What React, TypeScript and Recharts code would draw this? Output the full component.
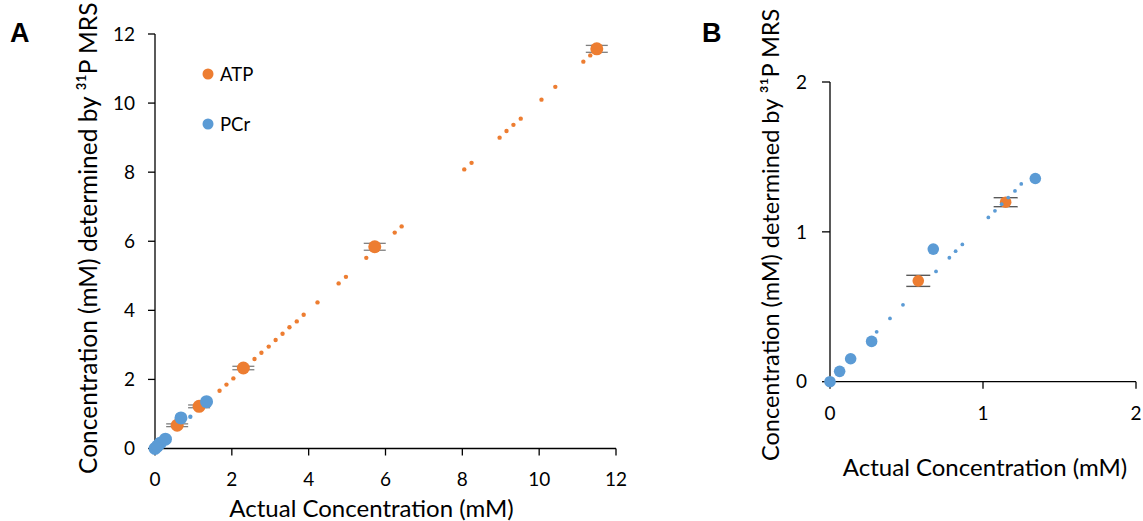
import React from 'react';
import { ScatterChart, Scatter, XAxis, YAxis, ErrorBar, Legend } from 'recharts';

const ORANGE = '#ED7D31';
const BLUE = '#5B9BD5';
const FONT = 'Lato, "Open Sans", sans-serif';

// Panel A
const ticksA = [0, 2, 4, 6, 8, 10, 12];
const atpActual = [0.577, 1.148, 2.3, 5.72, 11.5];
const atpMeasured = [0.673, 1.22, 2.33, 5.84, 11.57];
const atpError = [0.04, 0.04, 0.05, 0.1, 0.1];

const pcrActual = [0, 0.063, 0.135, 0.272, 0.675, 1.342];
const pcrMeasured = [0, 0.069, 0.153, 0.269, 0.885, 1.356];

const atpFitX = [1.68, 1.86, 2.04, 2.59, 2.77, 2.96, 3.14, 3.32, 3.5, 3.69, 3.87, 4.23, 4.78, 4.97, 5.5, 6.24, 6.42, 8.05, 8.24, 8.97, 9.15, 9.33, 9.52, 10.06, 10.42, 11.15, 11.33];
const atpFitY = [1.67, 1.85, 2.03, 2.59, 2.77, 2.95, 3.14, 3.32, 3.51, 3.68, 3.87, 4.23, 4.78, 4.97, 5.52, 6.25, 6.43, 8.08, 8.27, 9.0, 9.19, 9.37, 9.55, 10.1, 10.47, 11.2, 11.38];

const pcrFitXA = [0.92];
const pcrFitYA = [0.92];

// Panel B
const ticksB = [0, 1, 2];
const pcrFitXB = [0.305, 0.392, 0.477, 0.693, 0.78, 0.821, 0.865, 1.035, 1.078, 1.122, 1.165, 1.209, 1.25];
const pcrFitYB = [0.333, 0.422, 0.513, 0.736, 0.827, 0.871, 0.916, 1.096, 1.14, 1.185, 1.229, 1.273, 1.32];
const atpActualB = [0.577, 1.148];
const atpMeasuredB = [0.673, 1.198];
const atpErrorB = [0.037, 0.03];

const legendItems = [
  { name: 'ATP', color: ORANGE },
  { name: 'PCr', color: BLUE },
];

const Y_TITLE = 'Concentration (mM) determined by ³¹P MRS';
const X_TITLE = 'Actual Concentration (mM)';

const zip = (xs: number[], ys: number[], es?: number[]) =>
  xs.map((x, i) => ({ x, y: ys[i], err: es ? es[i] : 0 }));

const dot = (r: number, color: string) => (p: any) =>
  <circle cx={p.cx} cy={p.cy} r={r} fill={color} />;

const noShape = () => <g />;

const tickStyle = { fontSize: 19, fill: '#000', fontFamily: FONT };

const renderLegend = () => (
  <div style={{ fontFamily: FONT, fontSize: 18.5, color: '#000' }}>
    {legendItems.map((it, i) => (
      <div key={it.name} style={{ display: 'flex', alignItems: 'center', height: 24, marginBottom: i === 0 ? 26 : 0 }}>
        <svg width={12} height={12} style={{ marginRight: 6 }}>
          <circle cx={6} cy={6} r={5.5} fill={it.color} />
        </svg>
        <span>{it.name}</span>
      </div>
    ))}
  </div>
);

const yTitle = (dx: number, dy: number, fs: number) => (p: any) => {
  const vb = p.viewBox;
  const cx = vb.x + dx;
  const cy = vb.y + vb.height / 2 + dy;
  return (
    <text x={cx} y={cy} transform={`rotate(-90, ${cx}, ${cy})`} textAnchor="middle" dominantBaseline="central"
      style={{ fontSize: fs, fontFamily: FONT, fill: '#000' }}>{Y_TITLE}</text>
  );
};

const xTitle = (dx: number, dy: number) => (p: any) => {
  const vb = p.viewBox;
  const cx = vb.x + vb.width / 2 + dx;
  const cy = vb.y + dy;
  return (
    <text x={cx} y={cy} textAnchor="middle" dominantBaseline="central"
      style={{ fontSize: 24, fontFamily: FONT, fill: '#000' }}>{X_TITLE}</text>
  );
};

const axisProps = {
  axisLine: { stroke: '#000', strokeWidth: 1.3 },
  tickLine: { stroke: '#000', strokeWidth: 1.3 },
  tick: tickStyle,
  interval: 0 as const,
};

export default function App() {
  const atpA = zip(atpActual, atpMeasured, atpError);
  const pcrA = zip(pcrActual, pcrMeasured);
  const atpFitA = zip(atpFitX, atpFitY);
  const pcrFitA = zip(pcrFitXA, pcrFitYA);

  const atpB = zip(atpActualB, atpMeasuredB, atpErrorB);
  const pcrB = zip(pcrActual, pcrMeasured);
  const pcrFitB = zip(pcrFitXB, pcrFitYB);

  return (
    <div style={{ position: 'absolute', left: 0, top: 0, width: 1143, height: 521, background: '#fff' }}>
      <div style={{ position: 'absolute', left: 10, top: 18, fontFamily: '"Liberation Sans", Arial, sans-serif', fontWeight: 'bold', fontSize: 27 }}>A</div>
      <div style={{ position: 'absolute', left: 702, top: 18, fontFamily: '"Liberation Sans", Arial, sans-serif', fontWeight: 'bold', fontSize: 27 }}>B</div>

      <div style={{ position: 'absolute', left: 0, top: 0 }}>
        <ScatterChart width={650} height={521} margin={{ top: 34, right: 34, bottom: 42.5, left: 95 }}>
          <XAxis type="number" dataKey="x" domain={[0, 12]} ticks={ticksA} {...axisProps}
            tickSize={7} tickMargin={17} height={30}
            label={{ content: xTitle(-14, 59) } as any} />
          <YAxis type="number" dataKey="y" domain={[0, 12]} ticks={ticksA} {...axisProps}
            tickSize={7} tickMargin={13} width={60}
            label={{ content: yTitle(-8, -3, 24.5) } as any} />
          <Legend content={renderLegend} layout="vertical" verticalAlign="middle" align="center"
            wrapperStyle={{ position: 'absolute', left: 202, top: 62, width: 80 }} />
          <Scatter name="ATP error" legendType="none" data={atpA} shape={noShape} isAnimationActive={false}>
            <ErrorBar dataKey="err" direction="y" width={11} stroke="#7f7f7f" strokeWidth={1.3} />
          </Scatter>
          <Scatter name="ATP" data={atpA} fill={ORANGE} shape={dot(6.5, ORANGE)} isAnimationActive={false} />
          <Scatter name="PCr" data={pcrA} fill={BLUE} shape={dot(6.5, BLUE)} isAnimationActive={false} />
          <Scatter name="ATP fit" legendType="none" data={atpFitA} fill={ORANGE} shape={dot(2.2, ORANGE)} isAnimationActive={false} />
          <Scatter name="PCr fit" legendType="none" data={pcrFitA} fill={BLUE} shape={dot(2.2, BLUE)} isAnimationActive={false} />
        </ScatterChart>
      </div>

      <div style={{ position: 'absolute', left: 650, top: 0 }}>
        <ScatterChart width={493} height={521} margin={{ top: 82, right: 7, bottom: 109.3, left: 120 }}>
          <XAxis type="number" dataKey="x" domain={[0, 2]} ticks={ticksB} {...axisProps}
            tickSize={7} tickMargin={18} height={30}
            label={{ content: xTitle(2, 85) } as any} />
          <YAxis type="number" dataKey="y" domain={[0, 2]} ticks={ticksB} {...axisProps}
            tickSize={8} tickMargin={15} width={60}
            label={{ content: yTitle(0, 3, 23.5) } as any} />
          <Scatter name="ATP error" data={atpB} shape={noShape} isAnimationActive={false}>
            <ErrorBar dataKey="err" direction="y" width={12} stroke="#595959" strokeWidth={1.4} />
          </Scatter>
          <Scatter name="ATP" data={atpB} fill={ORANGE} shape={dot(5.8, ORANGE)} isAnimationActive={false} />
          <Scatter name="PCr" data={pcrB} fill={BLUE} shape={dot(5.8, BLUE)} isAnimationActive={false} />
          <Scatter name="PCr fit" data={pcrFitB} fill={BLUE} shape={dot(1.9, BLUE)} isAnimationActive={false} />
        </ScatterChart>
      </div>
    </div>
  );
}
